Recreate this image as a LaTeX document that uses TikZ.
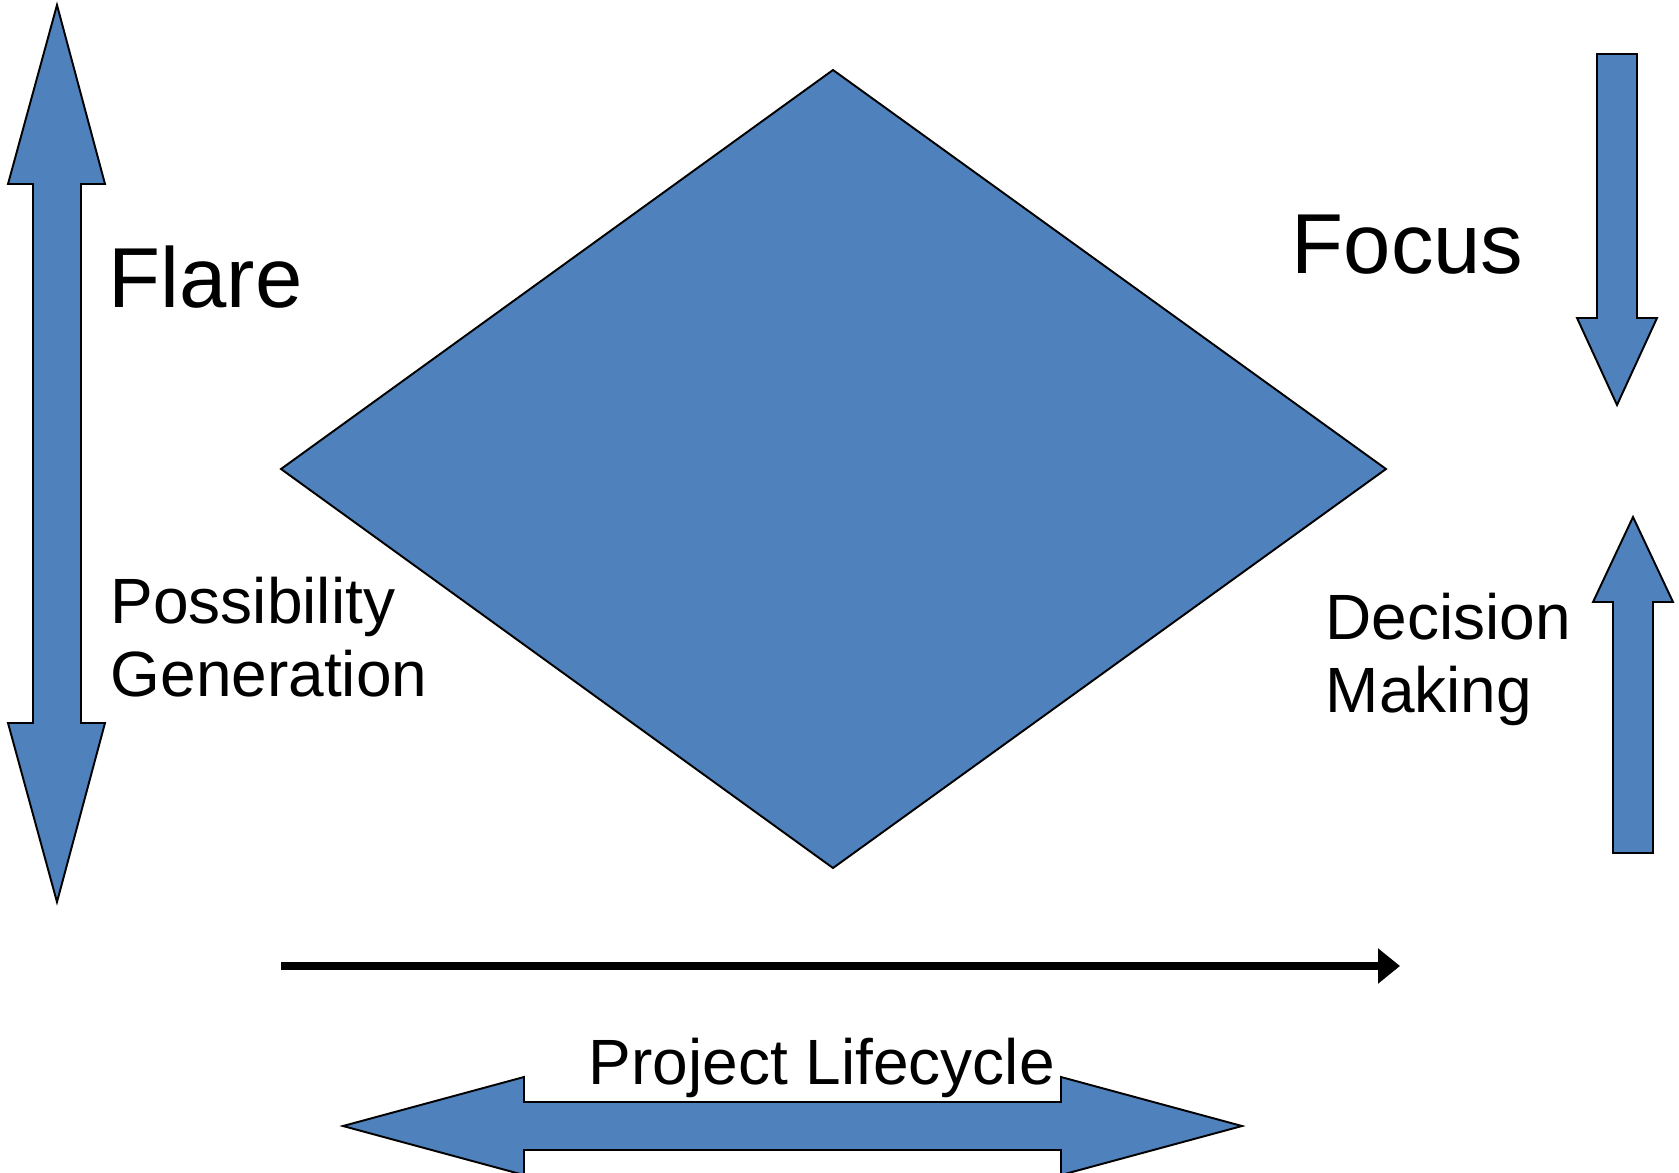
\documentclass[tikz,border=0pt]{standalone}
\usepackage{fontspec}
\setmainfont{Liberation Sans}
\usetikzlibrary{arrows.meta}
\definecolor{flareblue}{RGB}{79,129,189}
\begin{document}
\begin{tikzpicture}[x=0.01cm, y=-0.01cm,
	blockarrow/.style={draw=black, fill=flareblue, line width=0.55pt, line join=miter},
	bigtext/.style={inner sep=0, anchor=base west, font=\fontsize{24.2}{29}\selectfont},
	smalltext/.style={inner sep=0, anchor=base west, align=left, font=\fontsize{18.2}{20.5}\selectfont}]
	\useasboundingbox (0,0) rectangle (1679,1173);
	\clip (0,0) rectangle (1679,1173);
	% diamond
	\draw[blockarrow](833,70) -- (1386,469) -- (833,868) -- (281,469) -- cycle;
	% flare: double arrow on the left
	\draw[blockarrow](57,5) -- (105,184) -- (81,184) -- (81,723) -- (105,723) -- (57,902)
		-- (8,723) -- (33,723) -- (33,184) -- (8,184) -- cycle;
	% focus: down arrow and up arrow on the right
	\draw[blockarrow](1597,54) -- (1637,54) -- (1637,318) -- (1657,318) -- (1617,405)
		-- (1577,318) -- (1597,318) -- cycle;
	\draw[blockarrow](1633,517) -- (1673,602) -- (1653,602) -- (1653,853) -- (1613,853)
		-- (1613,602) -- (1593,602) -- cycle;
	% lifecycle double arrow at the bottom
	\draw[blockarrow](343,1126) -- (524,1077) -- (524,1102) -- (1061,1102) -- (1061,1077)
		-- (1242,1126) -- (1061,1175) -- (1061,1150) -- (524,1150) -- (524,1175) -- cycle;
	% time line
	\coordinate (tstart) at (281,966);
	\coordinate (tend) at (1400,966);
	\draw[line width=0.08cm, -{Triangle[length=0.22cm, width=0.34cm]}](tstart) -- (tend);
	% labels (base of a two-line node sits on its last line)
	\node[bigtext] (flare) at (108,307) {Flare};
	\node[bigtext] (focus) at (1291,273) {Focus};
	\node[smalltext] (possgen) at (110,696) {Possibility\\Generation};
	\node[smalltext] (decmak) at (1325,712) {Decision\\Making};
	\node[smalltext] (lifecycle) at (588,1084) {Project Lifecycle};
\end{tikzpicture}
\end{document}
